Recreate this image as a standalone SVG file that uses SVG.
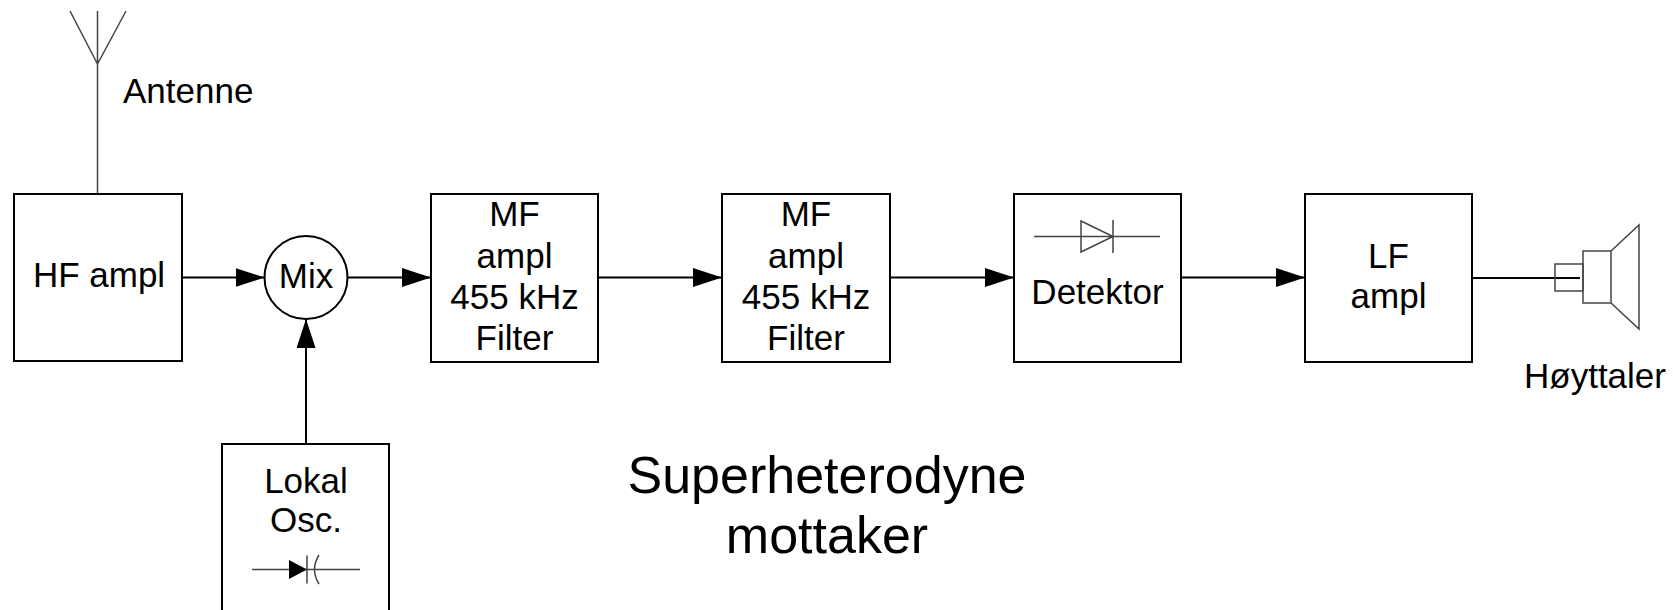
<svg xmlns="http://www.w3.org/2000/svg" width="1673" height="610" viewBox="0 0 1673 610">
<style>
.box{fill:#fff;stroke:#000;stroke-width:2}
.t{font-family:"Liberation Sans",Arial,sans-serif;font-size:35px;fill:#000;text-anchor:middle}
.conn{stroke:#000;stroke-width:2;fill:none}
.sym{stroke:#444;stroke-width:1.5;fill:none}
</style>
<defs>
<marker id="arr" markerUnits="userSpaceOnUse" markerWidth="29" markerHeight="19" refX="29" refY="9.5" orient="auto">
<path d="M0,0 L29,9.5 L0,19 z" fill="#000"/>
</marker>
</defs>
<rect width="1673" height="610" fill="#fff"/>
<g id="antenna">
<path class="sym" d="M97.5,194 V11 M70,11 L97.5,64 L126,11"/>
<text class="t" x="123" y="103" style="text-anchor:start">Antenne</text>
</g>
<g id="connectors">
<path class="conn" d="M182,277.5 H264.5" marker-end="url(#arr)"/>
<path class="conn" d="M348,277.5 H431" marker-end="url(#arr)"/>
<path class="conn" d="M598,277.5 H722" marker-end="url(#arr)"/>
<path class="conn" d="M890,277.5 H1014" marker-end="url(#arr)"/>
<path class="conn" d="M1181,277.5 H1305" marker-end="url(#arr)"/>
<path class="conn" d="M306,444 V319" marker-end="url(#arr)"/>
<path class="conn" d="M1472,278 H1580"/>
</g>
<g id="hf">
<rect class="box" x="14" y="194" width="168" height="167"/>
<text class="t" x="99" y="287">HF ampl</text>
</g>
<g id="mix">
<circle class="box" cx="306" cy="277.5" r="41.5"/>
<text class="t" x="306" y="288">Mix</text>
</g>
<g id="mf1">
<rect class="box" x="431" y="194" width="167" height="168"/>
<text class="t" x="514.5" y="226">MF</text>
<text class="t" x="514.5" y="267.5">ampl</text>
<text class="t" x="514.5" y="309">455 kHz</text>
<text class="t" x="514.5" y="350">Filter</text>
</g>
<g id="mf2">
<rect class="box" x="722" y="194" width="168" height="168"/>
<text class="t" x="806" y="226">MF</text>
<text class="t" x="806" y="267.5">ampl</text>
<text class="t" x="806" y="309">455 kHz</text>
<text class="t" x="806" y="350">Filter</text>
</g>
<g id="detektor">
<rect class="box" x="1014" y="194" width="167" height="168"/>
<path class="sym" d="M1034,236.5 H1160 M1081,221 L1113,236.5 L1081,252 Z M1113,220 V253"/>
<text class="t" x="1097.5" y="304">Detektor</text>
</g>
<g id="lf">
<rect class="box" x="1305" y="194" width="167" height="168"/>
<text class="t" x="1388.5" y="268">LF</text>
<text class="t" x="1388.5" y="308">ampl</text>
</g>
<g id="hoyttaler">
<rect class="sym" x="1555" y="264" width="28" height="27"/>
<rect class="sym" x="1583" y="251" width="28" height="52"/>
<path class="sym" d="M1611,251 L1639,225 V329 L1611,303"/>
<text class="t" x="1524" y="388" style="text-anchor:start">Høyttaler</text>
</g>
<g id="lokal">
<rect class="box" x="222" y="444" width="167" height="190"/>
<text class="t" x="306" y="493">Lokal</text>
<text class="t" x="306" y="532">Osc.</text>
<path class="sym" d="M252,569.5 H360 M307,555.5 V583.5 M319,555 Q310,569.5 319,584"/>
<path d="M289,560 L307,569.5 L289,579 Z" fill="#000"/>
</g>
<g id="title">
<text class="t" x="827" y="493" style="font-size:52px">Superheterodyne</text>
<text class="t" x="827" y="553" style="font-size:52px">mottaker</text>
</g>
</svg>
